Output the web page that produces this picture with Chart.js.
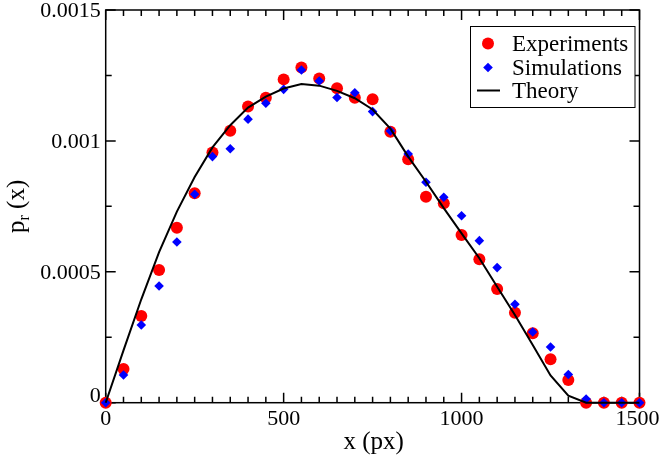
<!DOCTYPE html>
<html>
<head>
<meta charset="utf-8">
<script src="https://cdn.jsdelivr.net/npm/chart.js@4/dist/chart.umd.min.js"></script>
<style>
  html, body { margin: 0; padding: 0; background: #fff; }
  #wrap { width: 664px; height: 457px; position: relative; }
</style>
</head>
<body>
<div id="wrap"><canvas id="c"></canvas></div>
<script>
// ---- data ----
const xValues = [0,50,100,150,200,250,300,350,400,450,500,550,600,650,700,750,800,850,900,950,1000,1050,1100,1150,1200,1250,1300,1350,1400,1450,1500];
const experiments = [0,0.000129,0.000331,0.000507,0.000668,0.0008,0.000956,0.001039,0.001131,0.001165,0.001235,0.00128,0.001238,0.001201,0.001165,0.001159,0.001035,0.00093,0.000787,0.000762,0.000641,0.000548,0.000434,0.000344,0.000265,0.000166,0.000087,0,0,0,0];
const simulations = [0,0.000106,0.000297,0.000446,0.000614,0.000796,0.00094,0.00097,0.001083,0.001144,0.001197,0.001271,0.001229,0.001166,0.001184,0.001112,0.001038,0.00095,0.000842,0.000785,0.000714,0.000619,0.000516,0.000376,0.00027,0.000213,0.000108,0.000014,0,0,0];
const theory = [0,0.0002,0.000395,0.000575,0.00073,0.000862,0.000975,0.00106,0.001127,0.001169,0.0012,0.001217,0.001211,0.001191,0.001163,0.00112,0.001047,0.00094,0.000844,0.000743,0.000647,0.000552,0.000443,0.000335,0.00022,0.000104,0.000027,0,0,0,0];
const xTickValues = [0,500,1000,1500];
const xTickLabels = ['0','500','1000','1500'];
const xMinorValues = [50,100,150,200,250,300,350,400,450,550,600,650,700,750,800,850,900,950,1050,1100,1150,1200,1250,1300,1350,1400,1450];
const yTickValues = [0,0.0005,0.001,0.0015];
const yTickLabels = ['0','0.0005','0.001','0.0015'];
const yMinorValues = [0.00025,0.00075,0.00125];
const seriesNames = ['Experiments','Simulations','Theory'];
const xTitle = 'x (px)';
const yTitleMain = 'p';
const yTitleSub = 'r';
const yTitleRest = ' (x)';

const FONT = "'Liberation Serif', 'Times New Roman', serif";

function pts(ys) { return xValues.map((x, i) => ({x: x, y: ys[i]})); }

const framePlugin = {
  id: 'frame',
  beforeDatasetsDraw(chart) {
    const {ctx, chartArea: a, scales: {x, y}} = chart;
    ctx.save();
    ctx.strokeStyle = '#000';
    ctx.lineWidth = 1.5;
    ctx.strokeRect(a.left, a.top, a.right - a.left, a.bottom - a.top);
    ctx.beginPath();
    const major = 10, minor = 6;
    xTickValues.forEach(v => { const p = x.getPixelForValue(v);
      ctx.moveTo(p, a.bottom); ctx.lineTo(p, a.bottom - major);
      ctx.moveTo(p, a.top); ctx.lineTo(p, a.top + major); });
    xMinorValues.forEach(v => { const p = x.getPixelForValue(v);
      ctx.moveTo(p, a.bottom); ctx.lineTo(p, a.bottom - minor);
      ctx.moveTo(p, a.top); ctx.lineTo(p, a.top + minor); });
    yTickValues.forEach(v => { const p = y.getPixelForValue(v);
      ctx.moveTo(a.left, p); ctx.lineTo(a.left + major, p);
      ctx.moveTo(a.right, p); ctx.lineTo(a.right - major, p); });
    yMinorValues.forEach(v => { const p = y.getPixelForValue(v);
      ctx.moveTo(a.left, p); ctx.lineTo(a.left + minor, p);
      ctx.moveTo(a.right, p); ctx.lineTo(a.right - minor, p); });
    ctx.stroke();

    // tick labels
    ctx.fillStyle = '#000';
    ctx.font = '22px ' + FONT;
    ctx.textAlign = 'center';
    ctx.textBaseline = 'middle';
    xTickValues.forEach((v, i) => {
      let p = x.getPixelForValue(v);
      if (i === xTickValues.length - 1) p -= 2;
      ctx.fillText(xTickLabels[i], p, a.bottom + 17);
    });
    ctx.textAlign = 'right';
    yTickValues.forEach((v, i) => {
      let p = y.getPixelForValue(v) + 1.5;
      if (v === 0) p -= 8;
      ctx.fillText(yTickLabels[i], a.left - 5, p);
    });

    // axis titles
    ctx.font = '25px ' + FONT;
    ctx.textAlign = 'center';
    ctx.textBaseline = 'alphabetic';
    ctx.fillText(xTitle, (a.left + a.right) / 2 + 1, 449);

    ctx.save();
    ctx.translate(24, (a.top + a.bottom) / 2);
    ctx.rotate(-Math.PI / 2);
    ctx.textAlign = 'left';
    const mainF = '25px ' + FONT, subF = '16px ' + FONT;
    ctx.font = mainF; const w1 = ctx.measureText(yTitleMain).width;
    ctx.font = subF; const w2 = ctx.measureText(yTitleSub).width;
    ctx.font = mainF; const w3 = ctx.measureText(yTitleRest).width;
    let sx = -(w1 + w2 + w3) / 2;
    ctx.font = mainF; ctx.fillText(yTitleMain, sx, 0); sx += w1;
    ctx.font = subF; ctx.fillText(yTitleSub, sx, 5); sx += w2;
    ctx.font = mainF; ctx.fillText(yTitleRest, sx, 0);
    ctx.restore();
    ctx.restore();
  },
  afterDraw(chart) {
    const {ctx} = chart;
    const ds = chart.data.datasets;
    ctx.save();
    const bx = 470.5, by = 26.5, bw = 164.5, bh = 81;
    ctx.fillStyle = '#fff';
    ctx.fillRect(bx, by, bw, bh);
    ctx.strokeStyle = '#000';
    ctx.lineWidth = 1;
    ctx.strokeRect(bx, by, bw, bh);
    const rows = [43.5, 67.5, 90.5];
    const symX = 488, textX = 512;
    // Experiments
    ctx.fillStyle = ds[0].backgroundColor;
    ctx.beginPath(); ctx.arc(symX, rows[0], ds[0].pointRadius, 0, Math.PI * 2); ctx.fill();
    // Simulations
    ctx.fillStyle = ds[1].backgroundColor;
    const r = ds[1].pointRadius;
    ctx.beginPath();
    ctx.moveTo(symX, rows[1] - r); ctx.lineTo(symX + r, rows[1]);
    ctx.lineTo(symX, rows[1] + r); ctx.lineTo(symX - r, rows[1]); ctx.closePath(); ctx.fill();
    // Theory
    ctx.strokeStyle = ds[2].borderColor; ctx.lineWidth = ds[2].borderWidth;
    ctx.beginPath(); ctx.moveTo(477, rows[2]); ctx.lineTo(500, rows[2]); ctx.stroke();
    ctx.fillStyle = '#000';
    ctx.font = '23px ' + FONT;
    ctx.textAlign = 'left';
    ctx.textBaseline = 'middle';
    seriesNames.forEach((n, i) => ctx.fillText(n, textX, rows[i] + 1));
    ctx.restore();
  }
};

new Chart(document.getElementById('c'), {
  type: 'scatter',
  data: {
    datasets: [
      { label: seriesNames[0], data: pts(experiments), showLine: false,
        pointStyle: 'circle', pointRadius: 6, backgroundColor: '#ff0000', borderColor: '#ff0000',
        borderWidth: 0, pointBorderWidth: 0, clip: false, order: 2 },
      { label: seriesNames[1], data: pts(simulations), showLine: false,
        pointStyle: 'rectRot', pointRadius: 4.8, backgroundColor: '#0000ff', borderColor: '#0000ff',
        borderWidth: 0, pointBorderWidth: 0, clip: false, order: 1 },
      { label: seriesNames[2], data: pts(theory), showLine: true, pointRadius: 0,
        borderColor: '#000000', backgroundColor: '#000000', borderWidth: 2, tension: 0,
        fill: false, clip: false, order: 0 }
    ]
  },
  options: {
    responsive: true,
    maintainAspectRatio: false,
    animation: false,
    events: [],
    layout: { padding: { left: 0, right: 24.5, top: 10, bottom: 0 } },
    plugins: { legend: { display: false }, tooltip: { enabled: false }, title: { display: false } },
    scales: {
      x: { type: 'linear', min: 0, max: 1500,
           grid: { display: false }, border: { display: false },
           ticks: { display: false }, title: { display: false },
           afterFit(s) { s.height = 54.3; } },
      y: { type: 'linear', min: 0, max: 0.0015,
           grid: { display: false }, border: { display: false },
           ticks: { display: false }, title: { display: false },
           afterFit(s) { s.width = 105.7; } }
    }
  },
  plugins: [framePlugin]
});
</script>
</body>
</html>
